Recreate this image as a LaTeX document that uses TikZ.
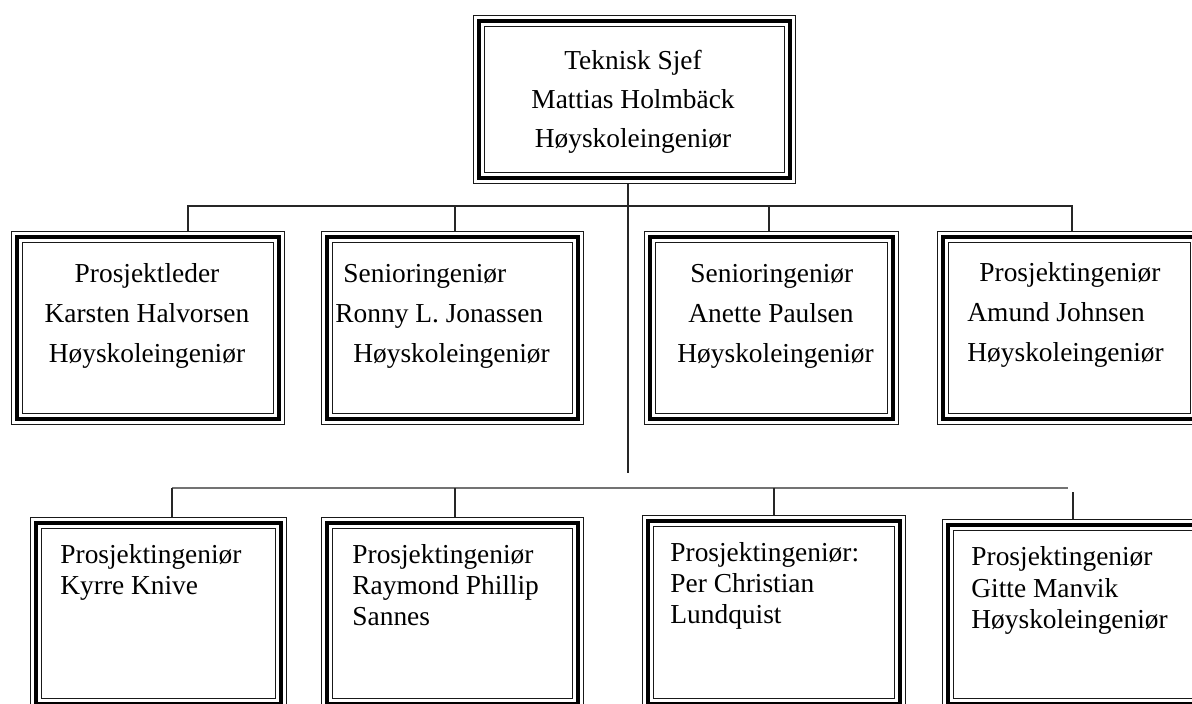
\documentclass[tikz,border=0pt]{standalone}
\usepackage{fontspec}
\setmainfont{Liberation Serif}
\usetikzlibrary{fit}

% 1 unit = 1 px, y grows downward
\tikzset{
  x=0.5pt, y=-0.5pt,
  % thin-thick-thin triple frame drawn about the fitted centre line
  frame/.style={inner sep=0pt, outer sep=3pt,
    preaction={draw=black!90, line width=6pt},
    preaction={draw=white, line width=4.7pt},
    draw=black, line width=2.3pt},
  txt/.style={inner sep=0pt, font=\fontsize{13.7}{16}\selectfont},
  conn/.style={draw=black!85, line width=0.65pt},
  bus/.style={draw=black!55, line width=0.65pt},
}

\begin{document}
\begin{tikzpicture}
\useasboundingbox[fill=white] (0,0) rectangle (1192,704);

% frames
\node[frame, fit={(479,21) (790,178)}] (top) {};
\node[frame, fit={(17,237) (279,419)}] (b1) {};
\node[frame, fit={(327,237) (578,419)}] (b2) {};
\node[frame, fit={(650,237) (893,419)}] (b3) {};
\node[frame, fit={(943,237) (1196,419)}] (b4) {};
\node[frame, fit={(36,523) (281,704)}] (b5) {};
\node[frame, fit={(327,523) (578,704)}] (b6) {};
\node[frame, fit={(648,521) (900,704)}] (b7) {};
\node[frame, fit={(948,525) (1199,704)}] (b8) {};

% junction points
\coordinate (stem) at (628,473);
\coordinate (t1) at (188,206);
\coordinate (t2) at (455,206);
\coordinate (t3) at (769,206);
\coordinate (t4) at (1072,206);
\coordinate (t5) at (172,488);
\coordinate (t6) at (455,488);
\coordinate (t7) at (774,488);
\coordinate (t8) at (1073,492);
\coordinate (h2end) at (1068,488);

% upper level
\draw[conn] (top.south -| stem) -- (stem);
\draw[conn] (b1.north -| t1) -- (t1) -- (t4) -- (b4.north -| t4);
\draw[conn] (b2.north -| t2) -- (t2);
\draw[conn] (b3.north -| t3) -- (t3);

% lower level
\draw[bus] (t5) -- (h2end);
\draw[conn] (b5.north -| t5) -- (t5);
\draw[conn] (b6.north -| t6) -- (t6);
\draw[conn] (b7.north -| t7) -- (t7);
\draw[conn] (b8.north -| t8) -- (t8);

% texts
\node[txt, anchor=base] (top1) at (633,70) {Teknisk Sjef};
\node[txt, anchor=base] (top2) at (633,109) {Mattias Holmbäck};
\node[txt, anchor=base] (top3) at (633,148) {Høyskoleingeniør};

\node[txt, anchor=base] (b1a) at (147,283) {Prosjektleder};
\node[txt, anchor=base] (b1b) at (147,323) {Karsten Halvorsen};
\node[txt, anchor=base] (b1c) at (147,363) {Høyskoleingeniør};

\node[txt, anchor=base west] (b2a) at (343,283) {Senioringeniør};
\node[txt, anchor=base west] (b2b) at (335,323) {Ronny L. Jonassen};
\node[txt, anchor=base west] (b2c) at (353,363) {Høyskoleingeniør};

\node[txt, anchor=base west] (b3a) at (690,283) {Senioringeniør};
\node[txt, anchor=base west] (b3b) at (688,323) {Anette Paulsen};
\node[txt, anchor=base west] (b3c) at (677,363) {Høyskoleingeniør};

\node[txt, anchor=base west] (b4a) at (979,282) {Prosjektingeniør};
\node[txt, anchor=base west] (b4b) at (967,322) {Amund Johnsen};
\node[txt, anchor=base west] (b4c) at (967,362) {Høyskoleingeniør};

\node[txt, anchor=base west] (b5a) at (60,563) {Prosjektingeniør};
\node[txt, anchor=base west] (b5b) at (60,594) {Kyrre Knive};

\node[txt, anchor=base west] (b6a) at (352,563) {Prosjektingeniør};
\node[txt, anchor=base west] (b6b) at (352,594) {Raymond Phillip};
\node[txt, anchor=base west] (b6c) at (352,625) {Sannes};

\node[txt, anchor=base west] (b7a) at (670,561) {Prosjektingeniør:};
\node[txt, anchor=base west] (b7b) at (670,592) {Per Christian};
\node[txt, anchor=base west] (b7c) at (670,623) {Lundquist};

\node[txt, anchor=base west] (b8a) at (971,566) {Prosjektingeniør};
\node[txt, anchor=base west] (b8b) at (971,597) {Gitte Manvik};
\node[txt, anchor=base west] (b8c) at (971,628) {Høyskoleingeniør};
\end{tikzpicture}
\end{document}
